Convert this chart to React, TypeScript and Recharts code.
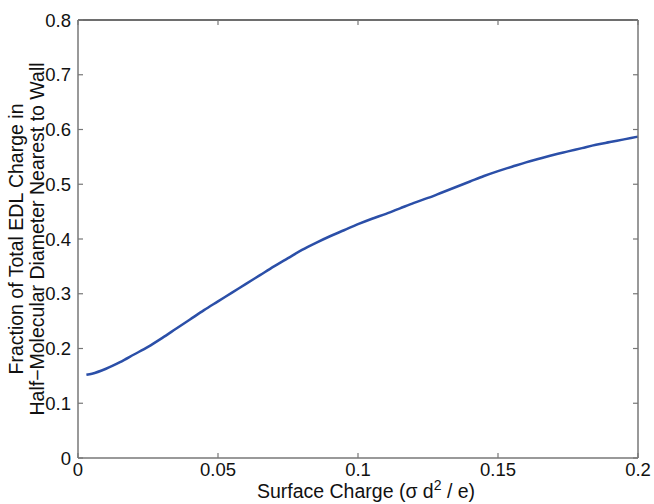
import { LineChart, Line, XAxis, YAxis } from 'recharts';

// surface charge (sigma d^2 / e)
const charge = [
    0.003, 0.005, 0.01, 0.015, 0.02, 0.025, 0.03, 0.035, 0.04, 0.045, 0.05,
    0.055, 0.06, 0.065, 0.07, 0.075, 0.08, 0.085, 0.09, 0.095, 0.1,
    0.105, 0.11, 0.115, 0.12, 0.125, 0.13, 0.135, 0.14, 0.145, 0.15,
    0.155, 0.16, 0.165, 0.17, 0.175, 0.18, 0.185, 0.19, 0.195, 0.2,
];
// fraction of EDL charge in the half-diameter nearest to the wall
const fraction = [
    0.152, 0.154, 0.163, 0.175, 0.189, 0.203, 0.219, 0.236, 0.253, 0.270, 0.286,
    0.302, 0.318, 0.334, 0.350, 0.365, 0.380, 0.393, 0.405, 0.416, 0.427,
    0.437, 0.446, 0.456, 0.466, 0.475, 0.485, 0.495, 0.505, 0.515, 0.524,
    0.532, 0.540, 0.547, 0.554, 0.560, 0.566, 0.572, 0.577, 0.582, 0.587,
];
const xTicks = [0, 0.05, 0.1, 0.15, 0.2];
const yTicks = [0, 0.1, 0.2, 0.3, 0.4, 0.5, 0.6, 0.7, 0.8];

const data = charge.map((x, i) => ({ x, y: fraction[i] }));

const FONT = 'Arial, "Liberation Sans", Helvetica, sans-serif';
const AXIS = '#777';
const TEXT = '#111';
const tickStyle = { fontSize: 18.5, fill: TEXT, fontFamily: FONT };
const axisLine = { stroke: AXIS, strokeWidth: 1.5 };
const boxLine = { stroke: '#6e6e6e', strokeWidth: 2 };
const tickLine = { stroke: AXIS, strokeWidth: 1.2 };
const blank = () => '';

export default function App() {
    return (
        <div style={{ position: 'absolute', left: 0, top: 0, background: '#fff' }}>
            <LineChart width={654} height={504} data={data} margin={{ top: 0, right: 15, left: 0, bottom: 0 }}>
                <XAxis
                    xAxisId="bottom"
                    dataKey="x"
                    type="number"
                    domain={[0, 0.2]}
                    ticks={xTicks}
                    height={46}
                    stroke={AXIS}
                    axisLine={axisLine}
                    tickLine={tickLine}
                    tickSize={-5}
                    tickMargin={10}
                    tick={tickStyle}
                    label={{
                        content: () => (
                            <text x={366} y={498} textAnchor="middle" fontSize={19.5} fontFamily={FONT} fill={TEXT}>
                                Surface Charge (σ d
                                <tspan dy={-8} fontSize={14}>2</tspan>
                                <tspan dy={8}> / e)</tspan>
                            </text>
                        ),
                    }}
                />
                <XAxis
                    xAxisId="top"
                    dataKey="x"
                    type="number"
                    orientation="top"
                    domain={[0, 0.2]}
                    ticks={xTicks}
                    height={20}
                    stroke={AXIS}
                    axisLine={boxLine}
                    tickLine={tickLine}
                    tickSize={-5}
                    tickFormatter={blank}
                />
                <YAxis
                    yAxisId="left"
                    type="number"
                    domain={[0, 0.8]}
                    ticks={yTicks}
                    width={78}
                    stroke={AXIS}
                    axisLine={axisLine}
                    tickLine={tickLine}
                    tickSize={-5}
                    tickMargin={12}
                    tick={tickStyle}
                    label={{
                        content: () => (
                            <g fontSize={19.5} fontFamily={FONT} fill={TEXT}>
                                <text x={23} y={239} textAnchor="middle" transform="rotate(-90 23 239)">
                                    Fraction of Total EDL Charge in
                                </text>
                                <text x={44} y={239} textAnchor="middle" transform="rotate(-90 44 239)">
                                    Half−Molecular Diameter Nearest to Wall
                                </text>
                            </g>
                        ),
                    }}
                />
                <YAxis
                    yAxisId="right"
                    orientation="right"
                    type="number"
                    domain={[0, 0.8]}
                    ticks={yTicks}
                    width={1}
                    stroke={AXIS}
                    axisLine={axisLine}
                    tickLine={tickLine}
                    tickSize={-5}
                    tickFormatter={blank}
                />
                {/* invisible copy so the top/right box axes are drawn */}
                <Line
                    xAxisId="top"
                    yAxisId="right"
                    type="monotone"
                    dataKey="y"
                    stroke="none"
                    dot={false}
                    legendType="none"
                    isAnimationActive={false}
                />
                <Line
                    xAxisId="bottom"
                    yAxisId="left"
                    type="monotone"
                    dataKey="y"
                    stroke="#2b4fa8"
                    strokeWidth={2.5}
                    dot={false}
                    isAnimationActive={false}
                />
            </LineChart>
        </div>
    );
}
